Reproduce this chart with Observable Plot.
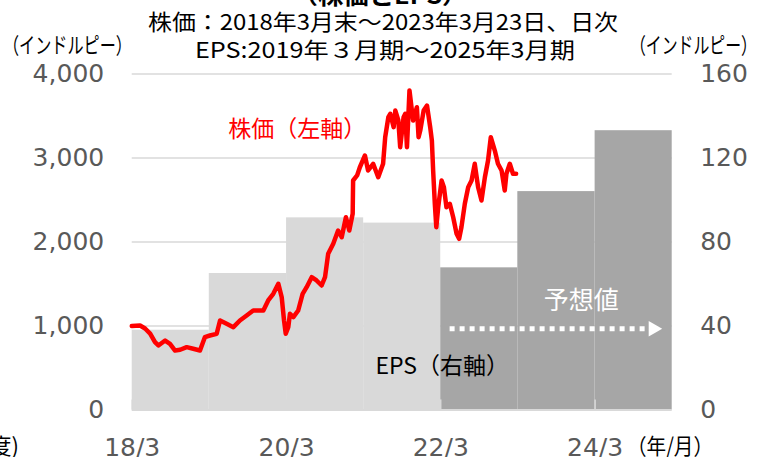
<!DOCTYPE html>
<html><head><meta charset="utf-8">
<script src="https://cdn.jsdelivr.net/npm/d3@7"></script>
<script src="https://cdn.jsdelivr.net/npm/@observablehq/plot@0.6"></script>
<style>
html,body{margin:0;padding:0;background:#fff;overflow:hidden;}
#chart svg{display:block;}
</style></head><body><div id="chart"></div>
<script>
// ---- data ----
const priceDates = ["2018-03-29","2018-05-07","2018-05-31","2018-06-24","2018-07-17","2018-08-02","2018-09-03","2018-09-26","2018-10-20","2018-11-13","2018-12-14","2019-01-14","2019-02-15","2019-03-10","2019-04-03","2019-05-05","2019-05-21","2019-06-21","2019-07-23","2019-08-23","2019-09-24","2019-10-25","2019-11-18","2019-12-12","2020-01-04","2020-01-28","2020-02-21","2020-03-08","2020-03-19","2020-03-27","2020-04-08","2020-04-16","2020-05-02","2020-05-25","2020-06-15","2020-07-04","2020-07-28","2020-08-20","2020-09-13","2020-09-29","2020-10-14","2020-11-07","2020-11-30","2020-12-17","2021-01-06","2021-01-22","2021-02-07","2021-02-09","2021-02-28","2021-03-13","2021-04-06","2021-04-21","2021-05-15","2021-06-08","2021-07-01",
  "2021-07-11","2021-07-26","2021-08-04","2021-08-20","2021-08-28","2021-09-11","2021-09-20","2021-10-06","2021-10-14","2021-10-22","2021-11-03","2021-11-20","2021-12-08","2021-12-16","2021-12-24","2022-01-09","2022-01-25","2022-02-09","2022-02-17",
  "2022-02-23","2022-03-03","2022-03-10","2022-03-19","2022-04-04","2022-04-15","2022-04-27","2022-05-13","2022-05-29","2022-06-14","2022-06-26","2022-07-07","2022-07-23","2022-08-08","2022-08-24","2022-09-08","2022-09-24","2022-10-10","2022-10-26","2022-11-10","2022-11-23","2022-12-12","2022-12-27","2023-01-13","2023-01-28","2023-02-05","2023-02-21","2023-03-08","2023-03-23"];
const priceValues = [1000,1006,970,910,807,768,827,788,708,717,748,729,708,867,887,907,1065,1026,986,1065,1125,1185,1185,1185,1304,1383,1502,1343,1065,907,986,1145,1105,1185,1383,1462,1581,1542,1482,1581,1860,1979,2137,2057,2295,2137,2336,2732,2792,2890,3030,2851,2931,2771,2931,
  3248,3486,3526,3367,3565,3450,3129,3486,3526,3129,3804,3446,3605,3248,3327,3565,3625,3367,3208,
  2851,2455,2176,2414,2732,2652,2414,2455,2295,2098,2038,2176,2455,2652,2732,2931,2652,2494,2771,2970,3248,3089,2931,2851,2613,2812,2931,2812,2812];

const epsPeriods = ["2019年3月期","2020年3月期","2021年3月期","2022年3月期","2023年3月期","2024年3月期","2025年3月期"];
const epsStart = ["2018-03-31","2019-03-31","2020-03-31","2021-03-31","2022-03-31","2023-03-31","2024-03-31"];
const epsEnd   = ["2019-03-31","2020-03-31","2021-03-31","2022-03-31","2023-03-31","2024-03-31","2025-03-31"];
const epsValues = [38, 65, 91.5, 89, 67.7, 104, 133];
const epsIsForecast = [false, false, false, false, true, true, true];

const leftTicks = [0, 1000, 2000, 3000, 4000];
const rightTicks = [0, 40, 80, 120, 160];
const xTickDates = ["2018-03-31","2020-03-31","2022-03-31","2024-03-31"];
const xTickLabels = ["18/3","20/3","22/3","24/3"];

// annotations (data coordinates)
const priceLabel = {text: "株価（左軸）", date: "2020-05-21", value: 3339};
const epsLabel = {text: "EPS（右軸）", date: "2022-04-07", value: 518};
const forecastLabel = {text: "予想値", date: "2024-01-25", value: 1292};
const forecastArrow = {from: "2022-05-12", to: "2024-11-24", head: "2024-12-31", value: 967};

// ---- build ----
const P = d3.utcParse("%Y-%m-%d");
const ratio = 4000 / 160;
const price = priceDates.map((d, i) => ({date: P(d), value: priceValues[i]}));
const eps = epsPeriods.map((p, i) => ({period: p, x1: P(epsStart[i]), x2: P(epsEnd[i]), eps: epsValues[i], forecast: epsIsForecast[i]}));
const tickMap = new Map(xTickDates.map((d, i) => [+P(d), xTickLabels[i]]));

const light = "#d9d9d9", dark = "#a6a6a6", axisGray = "#595959";
const jp = "'Noto Sans CJK JP', 'Noto Sans', sans-serif";

const chart = Plot.plot({
  width: 760, height: 457,
  marginLeft: 131.7, marginRight: 88.3, marginTop: 73.5, marginBottom: 47.5,
  style: {fontFamily: "'DejaVu Sans', Verdana, sans-serif", background: "white", overflow: "visible"},
  x: {type: "utc", domain: [P("2018-03-31"), P("2025-03-31")]},
  y: {domain: [0, 4000]},
  marks: [
    Plot.ruleY(leftTicks.filter(d => d > 0), {stroke: light, strokeWidth: 1.5}),
    Plot.rect(eps, {x1: "x1", x2: "x2", y1: 0, y2: d => d.eps * ratio, fill: d => d.forecast ? dark : light}),
    Plot.ruleY([0], {stroke: light, strokeWidth: 2}),
    Plot.ruleX(xTickDates.map(P), {y1: 0, y2: 120, stroke: light, strokeWidth: 1.5}),
    Plot.line(price, {x: "date", y: "value", stroke: "#ff0000", strokeWidth: 4.5, strokeLinejoin: "round", strokeLinecap: "round"}),
    Plot.link([forecastArrow], {x1: d => P(d.from), x2: d => P(d.to), y1: "value", y2: "value", stroke: "white", strokeWidth: 5, strokeDasharray: "5,5"}),
    Plot.dot([forecastArrow], {x: d => P(d.head), y: "value", symbol: "triangle", rotate: 90, r: 5.8, fill: "white", stroke: null}),
    Plot.text([priceLabel], {x: d => P(d.date), y: "value", text: "text", fill: "#ff0000", fontSize: 23, fontFamily: jp, lineAnchor: "middle"}),
    Plot.text([epsLabel], {x: d => P(d.date), y: "value", text: "text", fill: "black", fontSize: 23, fontFamily: jp, lineAnchor: "middle"}),
    Plot.text([forecastLabel], {x: d => P(d.date), y: "value", text: "text", fill: "white", fontSize: 25, fontFamily: jp, lineAnchor: "middle"}),
    Plot.axisY({anchor: "left", ticks: leftTicks, tickFormat: d3.format(","), tickSize: 0, tickPadding: 28, fontSize: 25, color: axisGray, label: null}),
    Plot.axisY({anchor: "right", ticks: rightTicks.map(v => v * ratio), tickFormat: v => String(v / ratio), tickSize: 0, tickPadding: 28, fontSize: 25, color: axisGray, label: null}),
    Plot.axisX({ticks: xTickDates.map(P), tickFormat: d => tickMap.get(+d), tickSize: 0, tickPadding: 28, fontSize: 25, color: axisGray, label: null})
  ]
});

const svg = d3.select(chart);
function addText(str, x, y, opts = {}) {
  const t = svg.append("text")
    .attr("x", x).attr("y", y)
    .attr("text-anchor", opts.anchor || "middle")
    .attr("font-family", jp)
    .attr("font-size", opts.size || 22)
    .attr("font-weight", opts.weight || "normal")
    .attr("fill", opts.fill || "black")
    .text(str);
  if (opts.len) t.attr("textLength", opts.len).attr("lengthAdjust", "spacingAndGlyphs");
  return t;
}
addText("（株価とEPS）", 380, 4, {weight: "bold", size: 23, len: 175});
addText("株価：2018年3月末～2023年3月23日、日次", 383, 30, {size: 22, len: 470});
addText("EPS:2019年３月期～2025年3月期", 385, 58, {size: 22, len: 380});
addText("（インドルピー）", 3, 53, {anchor: "start", size: 22, len: 129});
addText("（インドルピー）", 630, 53, {anchor: "start", size: 22, len: 127});
addText("（年/月）", 627, 454, {anchor: "start", size: 22, len: 86, fill: "black"});
addText("(年度)", 19, 454, {anchor: "end", size: 22, fill: "black"});

document.getElementById("chart").appendChild(chart);
</script></body></html>
